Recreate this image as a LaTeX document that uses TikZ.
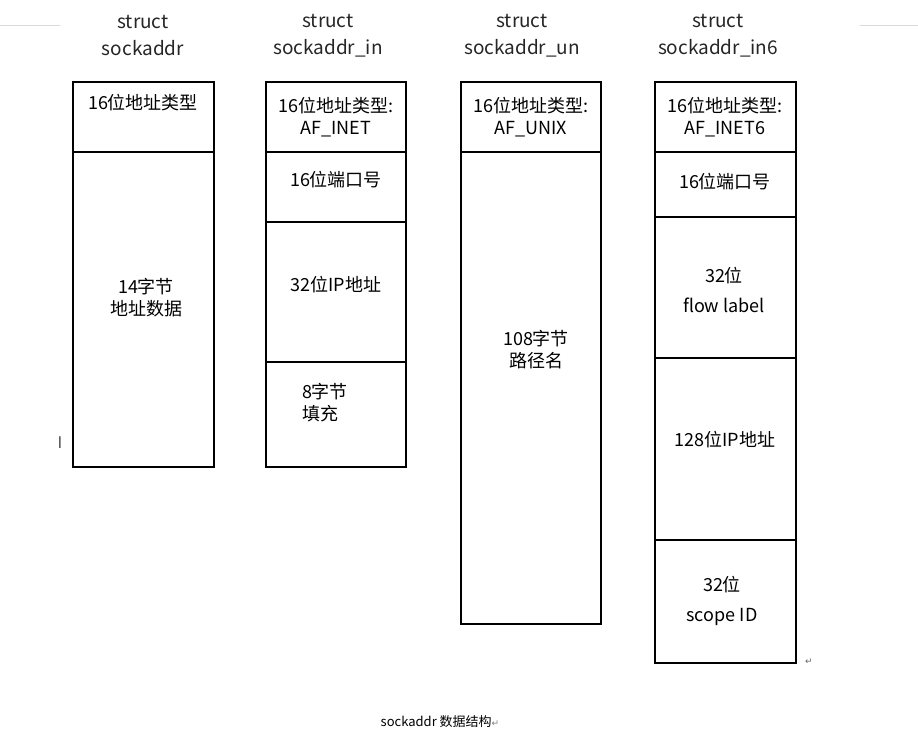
\documentclass[tikz,border=0pt]{standalone}
\usepackage{fontspec}
\setmainfont{Noto Sans CJK SC}
\newfontfamily\djv{DejaVu Sans}
\begin{document}
\begin{tikzpicture}[x=1pt,y=-1pt,
  cell/.style={draw=black,line width=2.5pt},
  lbl/.style={font=\fontsize{18}{22}\selectfont,align=center,inner sep=0pt},
  ttl/.style={font=\fontsize{19}{27}\selectfont,align=center,inner sep=0pt,text=black!85}]
\useasboundingbox[fill=white] (0,0) rectangle (918,733);
\draw[black!15,line width=0.6pt] (0,25) -- (60,25) (860,25) -- (918,25);
% column 1
\node[ttl] (t1) at (143,36) {struct\\sockaddr};
\draw[cell] (73,82) rectangle (214,152);
\draw[cell] (73,152) rectangle (214,467);
\node[lbl] (a1) at (143,103) {16位地址类型};
\node[lbl] (a2) at (146,298) {14字节\\地址数据};
% column 2
\node[ttl] (t2) at (328,36) {struct\\sockaddr\_in};
\draw[cell] (266,82) rectangle (406,152);
\draw[cell] (266,152) rectangle (406,222);
\draw[cell] (266,222) rectangle (406,362);
\draw[cell] (266,362) rectangle (406,467);
\node[lbl] (b1) at (336,117) {16位地址类型:\\AF\_INET};
\node[lbl] (b2) at (336,180) {16位端口号};
\node[lbl] (b3) at (336,285) {32位IP地址};
\node[lbl,align=left] (b4) at (325,403) {8字节\\填充};
% column 3
\node[ttl] (t3) at (522,36) {struct\\sockaddr\_un};
\draw[cell] (461,82) rectangle (601,152);
\draw[cell] (461,152) rectangle (601,624);
\node[lbl] (c1) at (531,117) {16位地址类型:\\AF\_UNIX};
\node[lbl] (c2) at (536,350) {108字节\\路径名};
% column 4
\node[ttl] (t4) at (718,36) {struct\\sockaddr\_in6};
\draw[cell] (655,82) rectangle (796,152);
\draw[cell] (655,152) rectangle (796,217);
\draw[cell] (655,217) rectangle (796,358);
\draw[cell] (655,358) rectangle (796,540);
\draw[cell] (655,540) rectangle (796,663);
\node[lbl] (d1) at (725,117) {16位地址类型:\\AF\_INET6};
\node[lbl] (d2) at (725,182) {16位端口号};
\node[lbl] (d3) at (724,290) {32位\\[8pt]flow label};
\node[lbl] (d4) at (725,440) {128位IP地址};
\node[lbl] (d5) at (722,601) {32位\\[8pt]scope ID};
% marks
\node[font=\fontsize{16}{16}\selectfont,text=black!70] (cur) at (60,443) {I};
\node[font=\djv\fontsize{9}{9}\selectfont,text=black!60] (ret) at (809,662) {↵};
\node[font=\fontsize{13}{13}\selectfont,inner sep=0pt] (cap) at (440,722) {sockaddr 数据结构{\djv\fontsize{9}{9}\selectfont\textcolor{black!50}{↵}}};
\end{tikzpicture}
\end{document}
